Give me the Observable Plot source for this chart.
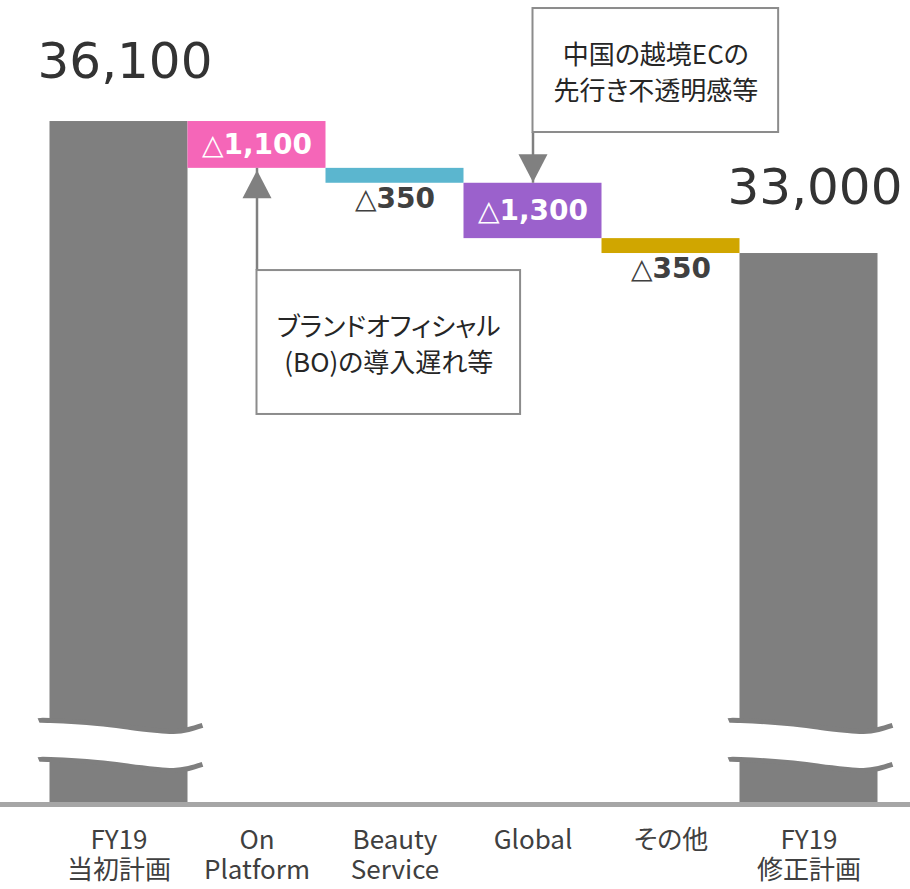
<!DOCTYPE html>
<html>
<head>
<meta charset="utf-8">
<script src="https://cdn.jsdelivr.net/npm/d3@7"></script>
<script src="https://cdn.jsdelivr.net/npm/@observablehq/plot@0.6"></script>
<style>
html, body { margin: 0; padding: 0; background: #fff; }
svg text { font-feature-settings: "palt"; }
</style>
</head>
<body>
<script>
// ---- data ----
const categories = ["FY19\n当初計画", "On\nPlatform", "Beauty\nService", "Global", "その他", "FY19\n修正計画"];
const startTotal = 36100;
const endTotal = 33000;
const deltas = [-1100, -350, -1300, -350];
const totalLabels = ["36,100", "33,000"];
const deltaLabels = ["△1,100", "△350", "△1,300", "△350"];
const deltaInside = [true, false, true, false];
const barColors = ["#7f7f7f", "#f566b8", "#5bb6cf", "#9b61cc", "#d0a600", "#7f7f7f"];
const baseValue = 20060;          // broken-axis floor

// annotation boxes (data units)
const notes = ["ブランドオフィシャル\n(BO)の導入遅れ等", "中国の越境ECの\n先行き不透明感等"];
const noteX1 = [1, 3];
const noteX2 = [2.91, 4.78];
const noteY1 = [29220, 35842];
const noteY2 = [32600, 38754];

// axis-break wave (offsets in category / value units)
const brokenBars = [0, 5];
const breakTop = 22033;
const breakGap = 916;
const waveDx = [-0.583, -0.496, -0.156, 0.083, 0.279, 0.395, 0.504, 0.605];
const waveDy = [0, 0, 70, 164, 235, 258, 211, 117];

// ---- derived tables ----
const rows = [];
rows.push({i: 0, y1: baseValue, y2: startTotal, color: barColors[0]});
let cur = startTotal;
deltas.forEach((d, k) => {
  rows.push({i: k + 1, y1: cur, y2: cur + d, color: barColors[k + 1], label: deltaLabels[k], inside: deltaInside[k]});
  cur += d;
});
rows.push({i: 5, y1: baseValue, y2: endTotal, color: barColors[5]});

const totals = [{i: 0, v: startTotal, label: totalLabels[0]}, {i: 5, v: endTotal, label: totalLabels[1]}];
const deltaRows = rows.filter(r => r.label);

const noteRows = notes.map((t, k) => ({text: t, x1: noteX1[k], x2: noteX2[k], y1: noteY1[k], y2: noteY2[k]}));

const waveRows = [];
brokenBars.forEach(b => waveDx.forEach((dx, k) => {
  waveRows.push({z: b, x: b + dx, top: breakTop - waveDy[k], bottom: breakTop - waveDy[k] - breakGap});
}));

// arrow targets from the bars
const arrow1 = {x: 1, from: noteY2[0], to: Math.min(rows[1].y1, rows[1].y2)};   // up to On Platform bottom
const arrow2 = {x: 3, from: noteY1[1], to: Math.max(rows[3].y1, rows[3].y2)};   // down to Global top

const triUp = {draw(ctx, size) { const r = Math.sqrt(size / Math.PI); ctx.moveTo(0, 0); ctx.lineTo(r, 1.93 * r); ctx.lineTo(-r, 1.93 * r); ctx.closePath(); }};
const triDown = {draw(ctx, size) { const r = Math.sqrt(size / Math.PI); ctx.moveTo(0, 0); ctx.lineTo(r, -1.93 * r); ctx.lineTo(-r, -1.93 * r); ctx.closePath(); }};

const chart = Plot.plot({
  width: 910,
  height: 889,
  marginTop: 1.8,
  marginBottom: 85,
  marginLeft: 0,
  marginRight: 0,
  x: {type: "linear", domain: [-0.8587, 5.7355], axis: null},
  y: {domain: [baseValue, 38900], axis: null},
  color: {type: "identity"},
  style: {fontFamily: "'Noto Sans CJK JP', sans-serif", color: "#404040", background: "white"},
  marks: [
    Plot.rect(rows, {x1: d => d.i - 0.5, x2: d => d.i + 0.5, y1: "y1", y2: "y2", fill: "color"}),
    // axis break
    Plot.areaY(waveRows, {x: "x", y1: "bottom", y2: "top", z: "z", fill: "white", curve: "natural"}),
    Plot.line(waveRows, {x: "x", y: "top", z: "z", stroke: "#7f7f7f", strokeWidth: 5, strokeLinecap: "butt", curve: "natural"}),
    Plot.line(waveRows, {x: "x", y: "bottom", z: "z", stroke: "#7f7f7f", strokeWidth: 5, strokeLinecap: "butt", curve: "natural"}),
    // baseline
    Plot.ruleY([baseValue], {stroke: "#a6a6a6", strokeWidth: 5}),
    // totals
    Plot.text([totals[0]], {x: "i", y: "v", text: "label", lineAnchor: "bottom", dy: -44, dx: 6, fontSize: 50, fontFamily: "DejaVu Sans", fill: "#333333"}),
    Plot.text([totals[1]], {x: "i", y: "v", text: "label", lineAnchor: "bottom", dy: -50, dx: 6, fontSize: 50, fontFamily: "DejaVu Sans", fill: "#333333"}),
    // delta labels
    Plot.text(deltaRows.filter(d => d.inside), {x: "i", y: d => (d.y1 + d.y2) / 2, text: "label", lineAnchor: "middle", fontSize: 28, fontWeight: "bold", fontFamily: "DejaVu Sans", fill: "white"}),
    Plot.text(deltaRows.filter(d => !d.inside), {x: "i", y: d => Math.min(d.y1, d.y2), text: "label", lineAnchor: "top", dy: 5, fontSize: 28, fontWeight: "bold", fontFamily: "DejaVu Sans", fill: "#404040"}),
    // arrows
    Plot.ruleX([arrow1], {x: "x", y1: "from", y2: "to", stroke: "#808080", strokeWidth: 2.5}),
    Plot.ruleX([arrow2], {x: "x", y1: "from", y2: "to", stroke: "#808080", strokeWidth: 2.5}),
    Plot.dot([arrow1], {x: "x", y: "to", r: 14.5, symbol: triUp, fill: "#808080", stroke: null, dy: 2}),
    Plot.dot([arrow2], {x: "x", y: "to", r: 14.5, symbol: triDown, fill: "#808080", stroke: null, dy: -1}),
    // note boxes
    Plot.rect(noteRows, {x1: "x1", x2: "x2", y1: "y1", y2: "y2", fill: "white", stroke: "#8c8c8c", strokeWidth: 2}),
    Plot.text(noteRows, {x: d => (d.x1 + d.x2) / 2, y: d => (d.y1 + d.y2) / 2, text: "text", lineAnchor: "middle", lineHeight: 1.36, fontSize: 26, fill: "#262626"}),
    // x axis
    Plot.axisX(d3.range(categories.length), {tickSize: 0, tickPadding: 23, tickFormat: i => categories[i], fontSize: 26, lineHeight: 1.15, label: null, fill: "#404040"})
  ]
});
document.body.appendChild(chart);
</script>
</body>
</html>
